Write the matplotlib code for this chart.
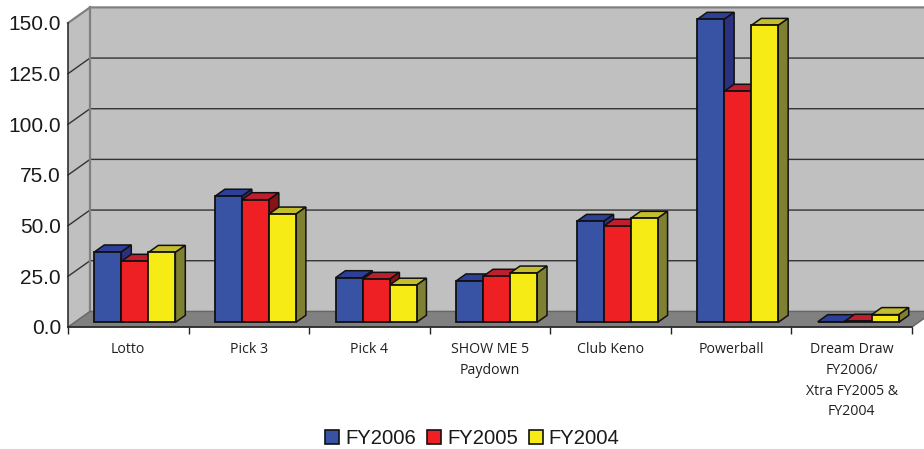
import matplotlib
matplotlib.use('Agg')
import matplotlib.pyplot as plt
from matplotlib.patches import Polygon, Patch

# Данные диаграммы
categories = ['Lotto', 'Pick 3', 'Pick 4', 'SHOW ME 5\nPaydown', 'Club Keno',
              'Powerball', 'Dream Draw\nFY2006/\nXtra FY2005 &\nFY2004']
series_names = ['FY2006', 'FY2005', 'FY2004']
fy2006 = [34.7, 62.2, 22.0, 20.4, 49.8, 149.5, 0.3]
fy2005 = [30.1, 60.5, 21.2, 22.7, 47.4, 114.0, 0.5]
fy2004 = [34.5, 53.4, 18.3, 24.3, 51.3, 146.5, 3.8]
y_ticks = [0, 25, 50, 75, 100, 125, 150]

front_colors = ['#3953a4', '#ee2024', '#f6eb14']
top_colors = ['#2e3f97', '#be1e2d', '#c4be2c']
side_colors = ['#2b3080', '#861417', '#808033']

# Размер «глубины» псевдо-3D в единицах данных
DX = 22 / 120.6
DY = 7.7
BAR_W = 0.224
D0 = 0.3
D1 = 0.75


def pr(x, y, d):
    return (x + d * DX, y + d * DY)


fig = plt.figure(figsize=(9.24, 4.49), dpi=100)
ax = fig.add_axes([68 / 924, 1 - 327 / 449, 844 / 924, 304 / 449])
ax.set_xlim(0, 7)
ax.set_ylim(0, 150)
ax.patch.set_visible(False)

# Стены и пол
ax.add_patch(Polygon([pr(0, 0, 1), pr(7, 0, 1), pr(7, 150, 1), pr(0, 150, 1)],
                     fc='#c0c0c0', ec='none', clip_on=False, zorder=1))
ax.add_patch(Polygon([pr(0, 0, 0), pr(0, 0, 1), pr(0, 150, 1), pr(0, 150, 0)],
                     fc='#c0c0c0', ec='none', clip_on=False, zorder=1))
ax.add_patch(Polygon([pr(0, 0, 0), pr(7, 0, 0), pr(7, 0, 1), pr(0, 0, 1)],
                     fc='#808080', ec='#666666', lw=1, clip_on=False, zorder=1.5))

# Линии сетки
for t in y_ticks[1:-1]:
    a = pr(0, t, 0)
    b = pr(0, t, 1)
    c = pr(7, t, 1)
    ax.plot([a[0], b[0], c[0]], [a[1], b[1], c[1]], color='#333333', lw=1.0,
            clip_on=False, zorder=1.2)
top_a = pr(0, 150, 0)
top_b = pr(0, 150, 1)
top_c = pr(7, 150, 1)
ax.plot([top_a[0], top_b[0], top_c[0]], [top_a[1], top_b[1], top_c[1]],
        color='#808080', lw=1.6, clip_on=False, zorder=1.2)
low_b = pr(0, 0, 1)
ax.plot([low_b[0], top_b[0]], [low_b[1], top_b[1]], color='#808080', lw=1.6,
        clip_on=False, zorder=1.3)

# Столбцы
all_series = [fy2006, fy2005, fy2004]
for i in range(len(categories)):
    left = i + 0.5 - 1.5 * BAR_W
    for k, values in enumerate(all_series):
        x0 = left + k * BAR_W
        x1 = x0 + BAR_W
        v = values[i]
        z = 2 + i + k * 0.1
        ax.add_patch(Polygon([pr(x0, v, D0), pr(x1, v, D0), pr(x1, v, D1), pr(x0, v, D1)],
                             fc=top_colors[k], ec='#111111', lw=1.1, zorder=z, clip_on=False))
        ax.add_patch(Polygon([pr(x1, 0, D0), pr(x1, 0, D1), pr(x1, v, D1), pr(x1, v, D0)],
                             fc=side_colors[k], ec='#111111', lw=1.1, zorder=z, clip_on=False))
        ax.bar(x0 + D0 * DX, v, width=BAR_W, bottom=D0 * DY, align='edge', color=front_colors[k],
               edgecolor='#111111', linewidth=1.3, zorder=z + 0.01, clip_on=False)

# Оси
ax.spines['top'].set_visible(False)
ax.spines['right'].set_visible(False)
ax.spines['left'].set_color('#222222')
ax.spines['bottom'].set_color('#222222')
ax.spines['left'].set_linewidth(1.1)
ax.spines['bottom'].set_linewidth(1.1)
ax.set_yticks(y_ticks)
ax.set_yticklabels([f'{t:.1f}' for t in y_ticks], fontsize=15, color='#1a1a1a',
                   family='Liberation Sans')
ax.tick_params(axis='y', length=0, pad=5)
ax.set_xticks(range(8))
ax.set_xticklabels([])
ax.tick_params(axis='x', which='major', length=5, width=1, color='#222222')
ax.set_xticks([i + 0.5 for i in range(7)], minor=True)
ax.set_xticklabels(categories, minor=True, fontsize=10.2, family='Open Sans',
                   color='#231f20', linespacing=1.52)
ax.tick_params(axis='x', which='minor', length=0, pad=11)

# Легенда
handles = [Patch(fc=front_colors[k], ec='#111111', lw=1.2) for k in range(3)]
fig.legend(handles, series_names, loc='center', bbox_to_anchor=(472.5 / 924, 1 - 439 / 449),
           ncol=3, frameon=False, handlelength=0.68, handleheight=0.68, handletextpad=0.3,
           columnspacing=0.55, prop={'family': 'Liberation Sans', 'size': 14.6},
           labelcolor='#1a1a1a')

fig.savefig('out.png', dpi=100)
